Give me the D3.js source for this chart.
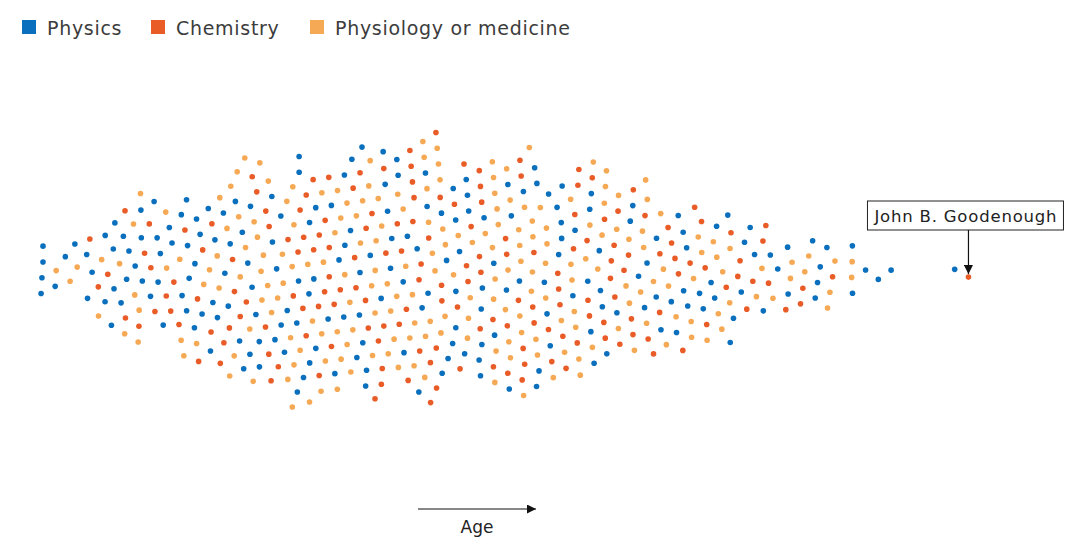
<!DOCTYPE html>
<html><head><meta charset="utf-8">
<script src="https://cdn.jsdelivr.net/npm/d3@7"></script>
<style>body{margin:0;background:#fff;} svg{display:block;font-family:"DejaVu Sans",sans-serif;}</style>
</head><body><svg id="c" width="1080" height="538"></svg>
<script>
const categories = ["Physics", "Chemistry", "Physiology or medicine"];
const colors = ["#0a6fbd", "#e95c27", "#f6a955"];
const physicsAges = [25,25,25,25,26,27,28,29,29,29,30,30,
  32,34,37,33,34,31,31,36,31,33,35,36,32,34,35,36,31,36,31,32,34,36,37,33,35,
  39,42,40,38,41,42,37,39,41,40,43,38,42,41,39,40,41,42,40,38,41,38,41,39,38,40,
  45,48,44,46,46,44,45,43,45,48,47,43,46,45,45,45,43,48,47,43,45,45,46,46,
  50,51,52,53,54,55,51,50,53,50,50,52,49,54,51,49,55,54,51,50,54,55,51,51,53,50,53,52,52,49,53,
  57,58,57,59,57,57,57,60,59,58,60,57,56,61,56,58,60,59,57,59,60,62,62,57,58,59,
  62,65,68,67,63,62,64,68,65,68,65,68,62,63,63,64,66,65,67,65,67,63,65,
  69,72,70,73,74,74,73,72,73,71,74,71,74,68,72,68,
  77,78,80,75,76,78,79,77,80,80,77,78,75,78,
  85,86,86,83,81,83,85,81,85,82,
  88,89,88,90,91,96];
const chemistryAges = [29,30,
  34,34,35,33,35,36,32,31,34,36,32,37,32,
  42,40,42,40,42,38,38,39,39,39,40,41,41,39,41,
  46,48,45,44,45,46,49,44,46,46,47,48,47,44,47,44,47,47,43,46,48,46,46,43,48,46,48,
  50,55,54,52,53,51,54,51,55,55,50,52,50,55,54,51,53,54,55,51,50,55,51,54,50,51,55,51,54,54,51,52,54,
  58,57,59,56,56,61,59,61,56,59,61,57,58,58,60,58,61,58,59,62,56,58,59,60,62,
  63,66,68,68,64,68,68,65,67,66,62,65,63,65,64,63,67,66,67,64,62,66,65,62,
  69,71,73,69,74,68,70,69,69,72,70,70,71,74,74,73,68,69,73,70,73,
  78,80,76,76,76,75,80,78,79,75,79,76,
  83,84,81,86,84,81,81,
  97];
const medicineAges = [26,27,28,30,
  36,32,37,32,31,32,36,33,33,32,35,33,36,
  42,41,38,40,43,41,40,39,39,40,39,41,42,42,41,38,42,40,41,42,41,40,41,
  45,49,44,45,48,45,47,49,46,44,45,48,44,47,49,46,49,46,44,45,48,49,48,45,43,45,45,44,46,48,45,47,44,
  53,51,55,50,52,50,55,50,51,55,55,53,50,51,53,54,54,53,51,50,53,52,55,52,51,55,54,54,50,53,55,50,50,52,51,54,50,53,55,
  58,59,60,61,60,61,60,58,60,61,57,60,61,60,58,60,61,56,58,56,61,61,60,60,60,61,59,57,62,56,56,
  63,65,64,66,63,66,63,66,63,67,63,66,63,66,63,64,62,67,65,64,66,62,65,62,62,64,62,
  68,70,68,71,73,71,68,71,72,71,74,72,68,71,73,71,73,68,69,71,68,73,68,69,72,70,
  75,76,75,78,76,77,75,76,78,78,76,78,80,77,
  81,84,85,86,83,83,82,86,86,
  88,88];
const annotationName = "John B. Goodenough";
const annotationAge = 97;
const axisLabel = "Age";

const svg = d3.select("#c");
const cy = 273;
const x = d3.scaleLinear().domain([25, 97]).range([43, 968]);
const color = d3.scaleOrdinal().domain(categories).range(colors);

// legend
const legItems = [{k:0, x:22}, {k:1, x:151}, {k:2, x:310}];
const leg = svg.append("g");
legItems.forEach(d => {
  leg.append("rect").attr("x", d.x).attr("y", 20).attr("width", 14).attr("height", 14)
    .attr("fill", colors[d.k]);
  leg.append("text").attr("x", d.x + 25).attr("y", 35).attr("font-size", 19)
    .attr("letter-spacing", 0.7).attr("fill", "#3c3c3c").text(categories[d.k]);
});

// nodes
const lists = [physicsAges, chemistryAges, medicineAges];
const counts = d3.rollup(lists.flat(), v => v.length, d => d);
const rng = d3.randomLcg(0.3117);
const nodes = [];
lists.forEach((arr, ci) => arr.forEach(a => {
  const n = counts.get(a);
  const spread = Math.min(140, n * 8);
  nodes.push({age: a, cat: categories[ci],
    x: x(a) + (rng() - 0.5) * 12,
    y: cy + (rng() - 0.5) * 2 * spread});
}));

const sim = d3.forceSimulation(nodes)
  .force("x", d3.forceX(d => x(d.age)).strength(0.12))
  .force("y", d3.forceY(cy).strength(0.01))
  .force("collide", d3.forceCollide(7.9).strength(0.75).iterations(2))
  .stop();
for (let i = 0; i < 300; i++) sim.tick();

svg.append("g").selectAll("circle").data(nodes).join("circle")
  .attr("cx", d => d.x).attr("cy", d => d.y).attr("r", 2.8)
  .attr("fill", d => color(d.cat));

// annotation
const gd = nodes.find(d => d.age === annotationAge && d.cat === "Chemistry");
const defs = svg.append("defs");
defs.append("marker").attr("id", "ah").attr("viewBox", "0 0 10 10").attr("refX", 10).attr("refY", 5)
  .attr("markerWidth", 9).attr("markerHeight", 9).attr("markerUnits", "userSpaceOnUse").attr("orient", "auto")
  .append("path").attr("d", "M0,0L10,5L0,10Z").attr("fill", "#111");
const ann = svg.append("g");
ann.append("rect").attr("x", gd.x - 101).attr("y", 201).attr("width", 196).attr("height", 29)
  .attr("fill", "#fff").attr("stroke", "#222").attr("stroke-width", 1);
ann.append("text").attr("x", gd.x - 94).attr("y", 222).attr("font-size", 16.5).attr("letter-spacing", 0.8)
  .attr("fill", "#222").text(annotationName);
ann.append("line").attr("x1", gd.x).attr("x2", gd.x).attr("y1", 230).attr("y2", gd.y - 3)
  .attr("stroke", "#111").attr("stroke-width", 1.2).attr("marker-end", "url(#ah)");

// age arrow
svg.append("line").attr("x1", 418).attr("x2", 536).attr("y1", 509).attr("y2", 509)
  .attr("stroke", "#111").attr("stroke-width", 1.2).attr("marker-end", "url(#ah)");
svg.append("text").attr("x", 477).attr("y", 533).attr("text-anchor", "middle").attr("font-size", 17)
  .attr("fill", "#222").text(axisLabel);
</script>
</body></html>
